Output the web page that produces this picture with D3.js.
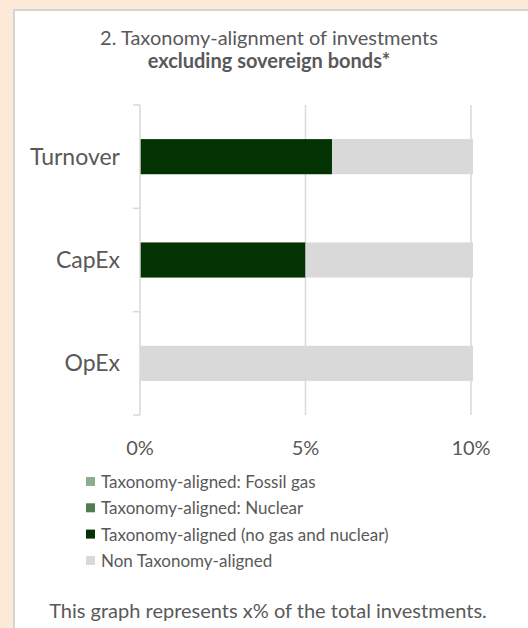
<!DOCTYPE html>
<html lang="en">
<head>
<meta charset="utf-8">
<script src="https://d3js.org/d3.v7.min.js"></script>
<style>
  body { margin: 0; background: #fce9d8; }
  svg { display: block; }
</style>
</head>
<body>
<script type="text/javascript">
  var w = 528;
  var h = 628;

  // data
  var categories = ["Turnover", "CapEx", "OpEx"];
  var seriesNames = ["Taxonomy-aligned: Fossil gas", "Taxonomy-aligned: Nuclear",
                     "Taxonomy-aligned (no gas and nuclear)", "Non Taxonomy-aligned"];
  var fossilGas = [0, 0, 0];
  var nuclear = [0, 0, 0];
  var aligned = [5.8, 5.0, 0];
  var nonAligned = [94.2, 95.0, 100];
  var xTicks = [0, 5, 10];
  var colors = ["#8fac8f", "#4f7d50", "#033303", "#d9d9d9"];

  var rows = categories.map(function (c, i) {
    return { cat: c, s0: fossilGas[i], s1: nuclear[i], s2: aligned[i], s3: nonAligned[i] };
  });
  var stack = d3.stack().keys(["s0", "s1", "s2", "s3"])(rows);

  var font = "Lato, 'Open Sans', sans-serif";
  var grey = "#595959";

  var svg = d3.select("body").append("svg")
    .attr("width", w).attr("height", h);

  // white panel
  svg.append("rect").attr("x", 14).attr("y", 10).attr("width", w).attr("height", h)
    .attr("fill", "#fff").attr("stroke", "#d4d4d4").attr("stroke-width", 2);

  // title
  svg.append("text").attr("x", 269).attr("y", 45).attr("text-anchor", "middle")
    .attr("font-family", font).attr("font-size", 20).attr("fill", grey)
    .text("2. Taxonomy-alignment of investments");
  svg.append("text").attr("x", 269).attr("y", 68).attr("text-anchor", "middle")
    .attr("font-family", font).attr("font-size", 20).attr("font-weight", "bold").attr("fill", grey)
    .text("excluding sovereign bonds*");

  var x = d3.scaleLinear().domain([0, 10]).range([140, 471]);
  var y = d3.scaleBand().domain(categories).range([105, 415]).paddingInner(0.66).paddingOuter(0.33);

  svg.append("clipPath").attr("id", "plot")
    .append("rect").attr("x", 138).attr("y", 100).attr("width", 335).attr("height", 320);

  // gridlines
  svg.append("g").selectAll("line").data(xTicks.slice(1)).join("line")
    .attr("x1", function (d) { return x(d); }).attr("x2", function (d) { return x(d); })
    .attr("y1", 105).attr("y2", 415)
    .attr("stroke", "#d9d9d9").attr("stroke-width", 1.5);

  // bars
  svg.append("g").attr("clip-path", "url(#plot)")
    .selectAll("g").data(stack).join("g")
    .attr("fill", function (d, i) { return colors[i]; })
    .selectAll("rect").data(function (d) { return d; }).join("rect")
    .attr("x", function (d) { return x(d[0]); })
    .attr("y", function (d) { return y(d.data.cat); })
    .attr("width", function (d) { return Math.max(0, x(d[1]) - x(d[0])); })
    .attr("height", y.bandwidth());

  // category axis
  var yAxis = svg.append("g").attr("transform", "translate(140,0)");
  yAxis.append("line").attr("x1", 0).attr("x2", 0).attr("y1", 105).attr("y2", 415)
    .attr("stroke", "#d9d9d9").attr("stroke-width", 1.5);
  yAxis.selectAll("line.tick").data(d3.range(categories.length + 1)).join("line")
    .attr("class", "tick")
    .attr("x1", -7).attr("x2", 0)
    .attr("y1", function (i) { return 105 + i * y.step(); })
    .attr("y2", function (i) { return 105 + i * y.step(); })
    .attr("stroke", "#d9d9d9").attr("stroke-width", 1.5);
  yAxis.selectAll("text").data(categories).join("text")
    .attr("x", -20).attr("y", function (d) { return y(d) + y.bandwidth() / 2; })
    .attr("dy", "0.35em").attr("text-anchor", "end")
    .attr("font-family", font).attr("font-size", 23).attr("fill", grey)
    .text(function (d) { return d; });

  // value axis labels
  svg.append("g").selectAll("text").data(xTicks).join("text")
    .attr("x", function (d) { return x(d); }).attr("y", 455)
    .attr("text-anchor", "middle")
    .attr("font-family", font).attr("font-size", 20).attr("fill", grey)
    .text(function (d) { return d + "%"; });

  // legend
  var leg = svg.append("g").selectAll("g").data(seriesNames).join("g")
    .attr("transform", function (d, i) { return "translate(86," + (482 + i * 26.3) + ")"; });
  leg.append("rect").attr("x", 0).attr("y", -5).attr("width", 9).attr("height", 9)
    .attr("fill", function (d, i) { return colors[i]; });
  leg.append("text").attr("x", 15).attr("dy", "0.35em")
    .attr("font-family", font).attr("font-size", 17).attr("fill", grey)
    .text(function (d) { return d; });

  // footer
  svg.append("text").attr("x", 268).attr("y", 618).attr("text-anchor", "middle")
    .attr("font-family", font).attr("font-size", 20).attr("fill", grey)
    .text("This graph represents x% of the total investments.");
</script>
</body>
</html>
